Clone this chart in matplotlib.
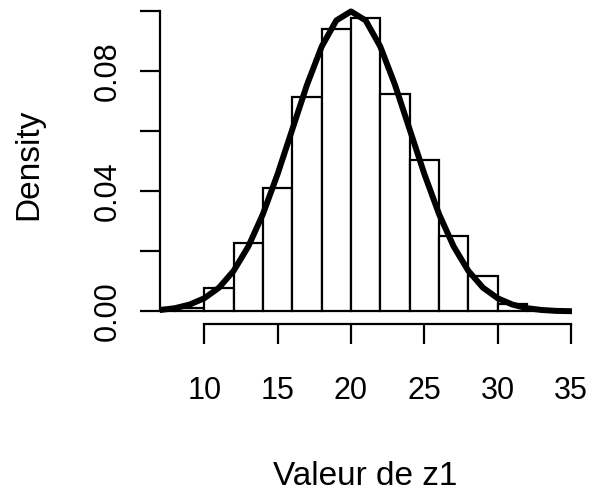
import matplotlib
matplotlib.use("Agg")
import matplotlib.pyplot as plt

# Histogram (density scale), bins of width 2
bin_edges = [6, 8, 10, 12, 14, 16, 18, 20, 22, 24, 26, 28, 30, 32, 34]
bar_density = [0.0013, 0.0013, 0.0077, 0.0227, 0.0411, 0.0714, 0.0939,
               0.0974, 0.0722, 0.0503, 0.0252, 0.0118, 0.0024, 0.0003]

# Density curve read at integer values
curve_x = [5, 6, 7, 8, 9, 10, 11, 12, 13, 14, 15, 16, 17, 18, 19, 20,
           21, 22, 23, 24, 25, 26, 27, 28, 29, 30, 31, 32, 33, 34, 35]
curve_y = [0.0001, 0.0002, 0.0005, 0.0011, 0.0023, 0.0044, 0.0079, 0.0135,
           0.0216, 0.0324, 0.0457, 0.0605, 0.0753, 0.0880, 0.0967, 0.0997,
           0.0967, 0.0880, 0.0753, 0.0605, 0.0457, 0.0324, 0.0216, 0.0135,
           0.0079, 0.0044, 0.0023, 0.0011, 0.0005, 0.0002, 0.0001]

x_ticks = [10, 15, 20, 25, 30, 35]
y_ticks = [0.00, 0.02, 0.04, 0.06, 0.08, 0.10]
y_tick_labels = ["0.00", "", "0.04", "", "0.08", ""]

plt.rcParams['font.family'] = ['Liberation Sans', 'DejaVu Sans']

W, H = 593, 491
fig = plt.figure(figsize=(W / 100, H / 100), dpi=100)
left_px, right_px, top_px, bottom_px = 160, 571.6, 0, 323.5
ax = fig.add_axes([left_px / W, 1 - bottom_px / H,
                   (right_px - left_px) / W, (bottom_px - top_px) / H])

lefts = bin_edges[:-1]
widths = [b - a for a, b in zip(bin_edges[:-1], bin_edges[1:])]
ax.bar(lefts, bar_density, width=widths, align='edge', color='white',
       edgecolor='black', linewidth=1.6)
ax.plot(curve_x, curve_y, color='black', linewidth=4.3,
        solid_capstyle='round', solid_joinstyle='round')

ax.set_xlim(6.98, 35.04)
ax.set_ylim(-0.00399, 0.10349)

for s in ['top', 'right']:
    ax.spines[s].set_visible(False)
ax.spines['left'].set_bounds(0, 0.10)
ax.spines['bottom'].set_bounds(10, 35)
ax.spines['left'].set_linewidth(1.6)
ax.spines['bottom'].set_linewidth(1.6)

ax.set_xticks(x_ticks)
ax.set_xticklabels([str(v) for v in x_ticks])
ax.set_yticks(y_ticks)
ax.set_yticklabels(y_tick_labels, rotation=90, va='center')
ax.tick_params(axis='both', length=14.5, width=1.6, labelsize=22)
ax.tick_params(axis='x', pad=23)
ax.tick_params(axis='y', pad=12.5)

fig.text(37 / W, 1 - 164 / H, "Density", rotation=90, ha='center',
         va='baseline', rotation_mode='anchor', fontsize=24)
fig.text(365.5 / W, 6 / H, "Valeur de z1", ha='center', va='baseline',
         fontsize=24)

fig.savefig("out.png", dpi=100)
